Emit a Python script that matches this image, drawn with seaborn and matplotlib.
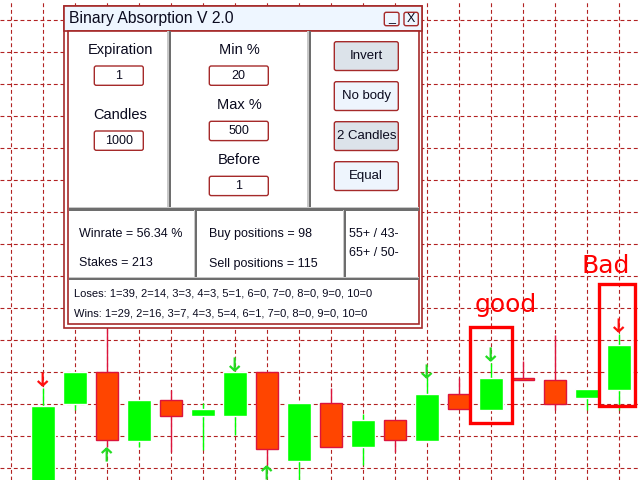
import numpy as np
import matplotlib
matplotlib.use("Agg")
import matplotlib.pyplot as plt
import matplotlib.patches as mpatches
from matplotlib.path import Path
import seaborn as sns

sns.set_style("white")
plt.rcParams["font.family"] = ["Liberation Sans", "DejaVu Sans"]

# ── data ──────────────────────────────────────────────────────────────────────
# candle prices (one grid cell = 32 units)
opens  = [-20, 76, 108, 39, 80, 64, 64, 108, 19, 77, 33, 60, 39, 86, 70, 102, 100, 82, 90, 137]
highs  = [92, 108, 162, 80, 90, 77, 108, 108, 77, 92, 66, 60, 102, 102, 117, 119, 145, 91, 146, 192]
lows   = [-40, 70, 33, 33, 28, 30, 45, 15, -20, 33, 15, 28, 39, 71, 70, 100, 70, 70, 70, 137]
closes = [74, 108, 40, 80, 64, 71, 108, 31, 77, 33, 60, 40, 86, 71, 102, 100, 76, 91, 135, 192]

down_idx    = [0, 6, 12, 14, 18]
down_price  = [101, 116, 109, 126, 155]
down_colors = ["#FF1010", "#22DD22", "#22DD22", "#22DD22", "#FF1010"]
up_idx      = [2, 7]
up_price    = [25, 7]

grid_prices = np.arange(12, 480, 32)
grid_bars   = np.arange(-1, 19)

title = "Binary Absorption V 2.0"
left_labels  = ["Expiration", "Candles"]
left_values  = ["1", "1000"]
mid_labels   = ["Min %", "Max %", "Before"]
mid_values   = ["20", "500", "1"]
buttons      = ["Invert", "No body", "2 Candles", "Equal"]
buttons_on   = [True, False, True, False]
stats_left   = ["Winrate = 56.34 %", "Stakes = 213"]
stats_mid    = ["Buy positions = 98", "Sell positions = 115"]
stats_right  = ["55+ / 43-", "65+ / 50-"]
loses_line = "Loses: 1=39, 2=14, 3=3, 4=3, 5=1, 6=0, 7=0, 8=0, 9=0, 10=0"
wins_line  = "Wins: 1=29, 2=16, 3=7, 4=3, 5=4, 6=1, 7=0, 8=0, 9=0, 10=0"

GREEN   = "#00FF00"
ORANGE  = "#FF4500"
CRIMSON = "#DC143C"
FRAME   = "#A52A2A"
TXT     = "#0A0A1E"

# ── chart ─────────────────────────────────────────────────────────────────────
fig = plt.figure(figsize=(6.4, 4.8), dpi=100)
ax = fig.add_axes([0, 0, 1, 1])
ax.set_xticks(grid_bars)
ax.set_yticks(grid_prices)
ax.set_xlim(-1.334, 18.666)
ax.set_ylim(0, 480)
for s in ax.spines.values():
    s.set_visible(False)
ax.tick_params(length=0, labelbottom=False, labelleft=False)
ax.grid(True, color="#B22222", linestyle=(0, (3.5, 2.5)), linewidth=0.8)
ax.set_axisbelow(True)

o, h, l, c = (np.array(v, dtype=float) for v in (opens, highs, lows, closes))
idx = np.arange(len(o))
bull = c >= o
ax.vlines(idx[bull], l[bull], h[bull], color=GREEN, lw=1.0, zorder=2)
ax.vlines(idx[~bull], l[~bull], h[~bull], color=CRIMSON, lw=1.0, zorder=2)
ax.bar(idx[bull], (c - o)[bull], bottom=o[bull], width=0.74, color=GREEN, zorder=3)
ax.bar(idx[~bull], (o - c)[~bull], bottom=c[~bull], width=0.69, color=ORANGE,
       edgecolor=CRIMSON, linewidth=1.0, zorder=3)

down_arrow = Path([(0, 1), (0, -1), (-0.75, -0.3), (0, -1), (0.75, -0.3)],
                  [Path.MOVETO, Path.LINETO, Path.MOVETO, Path.LINETO, Path.LINETO])
up_arrow = Path([(0, -1), (0, 1), (-0.75, 0.3), (0, 1), (0.75, 0.3)],
                [Path.MOVETO, Path.LINETO, Path.MOVETO, Path.LINETO, Path.LINETO])
ax.scatter(down_idx, down_price, marker=down_arrow, s=90, facecolors="none",
           edgecolors=down_colors, linewidths=1.6, zorder=4)
ax.scatter(up_idx, up_price, marker=up_arrow, s=90, facecolors="none",
           edgecolors="#22DD22", linewidths=1.6, zorder=4)

# hand-drawn marks
ax.add_patch(mpatches.Rectangle((13.35, 57), 1.31, 96, fill=False, ec="#FF0000", lw=2.4, zorder=5))
ax.add_patch(mpatches.Rectangle((17.38, 74), 1.12, 122, fill=False, ec="#FF0000", lw=2.4, zorder=5))
ax.text(14.48, 168, "good", color="#FF0000", fontsize=18, family="DejaVu Sans",
        ha="center", va="baseline", zorder=5)
ax.text(17.58, 207, "Bad", color="#FF0000", fontsize=18, family="DejaVu Sans",
        ha="center", va="baseline", zorder=5)

# ── panel (pixel coordinates) ─────────────────────────────────────────────────
pn = fig.add_axes([0, 0, 1, 1], zorder=10)
pn.set_xlim(0, 640)
pn.set_ylim(480, 0)
pn.axis("off")


def box(x0, y0, x1, y1, fc="white", ec=FRAME, lw=1.0, rounded=False, z=1):
    if rounded:
        p = mpatches.FancyBboxPatch((x0, y0), x1 - x0, y1 - y0,
                                    boxstyle="round,pad=0,rounding_size=2",
                                    fc=fc, ec=ec, lw=lw, zorder=z)
    else:
        p = mpatches.Rectangle((x0, y0), x1 - x0, y1 - y0, fc=fc, ec=ec, lw=lw, zorder=z)
    pn.add_patch(p)


box(64, 6.3, 422, 328, lw=1.2)
box(64, 6.3, 422, 30.7, fc="#EEF6FF", lw=1.2, z=2)
box(68.3, 30.7, 419.3, 324.3, lw=1.2, z=2)
pn.text(69, 19, title, fontsize=11.3, color=TXT, ha="left", va="center", zorder=5)
box(384.3, 12.3, 399, 25.7, fc="#EEF6FF", rounded=True, z=3)
box(404, 12.3, 418.3, 25.7, fc="#EEF6FF", rounded=True, z=3)
pn.text(391.7, 18.5, "_", fontsize=9, color=TXT, ha="center", va="center", zorder=5)
pn.text(411.2, 19, "X", fontsize=9, color=TXT, ha="center", va="center", zorder=5)

LIGHT, DARK = "#C8C8C8", "#6E6E6E"


def vdiv(x, y0, y1):
    box(x - 1.5, y0, x, y1, fc=LIGHT, ec="none", z=4)
    box(x, y0, x + 2.2, y1, fc=DARK, ec="none", z=4)


def hdiv(y, x0, x1):
    box(x0, y - 1.5, x1, y, fc=LIGHT, ec="none", z=4)
    box(x0, y, x1, y + 2.2, fc=DARK, ec="none", z=4)


vdiv(168.7, 31.3, 206.5)
vdiv(308.5, 31.3, 206.5)
hdiv(208.3, 68.9, 418.7)
vdiv(195.0, 210.3, 276.5)
vdiv(344.2, 210.3, 276.5)
hdiv(278.0, 68.9, 418.7)

# top-left column
for lab, val, ly, by in zip(left_labels, left_values, [50, 115], [66, 131]):
    pn.text(120, ly, lab, fontsize=10.5, color=TXT, ha="center", va="center", zorder=5)
    box(94.3, by, 143.3, by + 19.3, rounded=True, z=3)
    pn.text(118.8, by + 10, val, fontsize=9, color=TXT, ha="center", va="center", zorder=5)

# top-middle column
for lab, val, ly, by in zip(mid_labels, mid_values, [50, 105, 160], [66, 121.3, 176.3]):
    pn.text(239, ly, lab, fontsize=10.5, color=TXT, ha="center", va="center", zorder=5)
    box(209.3, by, 268.3, by + 19.3, rounded=True, z=3)
    pn.text(238.8, by + 10, val, fontsize=9, color=TXT, ha="center", va="center", zorder=5)

# buttons
for lab, on, by in zip(buttons, buttons_on, [41.7, 81.7, 121.7, 161.7]):
    box(334.3, by, 398.3, by + 28.8, fc="#DCE3EA" if on else "#EEF5FD", rounded=True, z=3)
    pn.text(366.3, by + 14.6, lab, fontsize=9.5, color=TXT, ha="center", va="center", zorder=5)

# stats
for t, y in zip(stats_left, [234, 263.5]):
    pn.text(79.3, y, t, fontsize=9, color=TXT, ha="left", va="center", zorder=5)
for t, y in zip(stats_mid, [234, 263.5]):
    pn.text(209, y, t, fontsize=9, color=TXT, ha="left", va="center", zorder=5)
for t, y in zip(stats_right, [234, 253.5]):
    pn.text(349, y, t, fontsize=9, color=TXT, ha="left", va="center", zorder=5)

pn.text(74, 294, loses_line, fontsize=8, color=TXT, ha="left", va="center", zorder=5)
pn.text(74, 313.5, wins_line, fontsize=8, color=TXT, ha="left", va="center", zorder=5)

fig.savefig("out.png", dpi=100)
